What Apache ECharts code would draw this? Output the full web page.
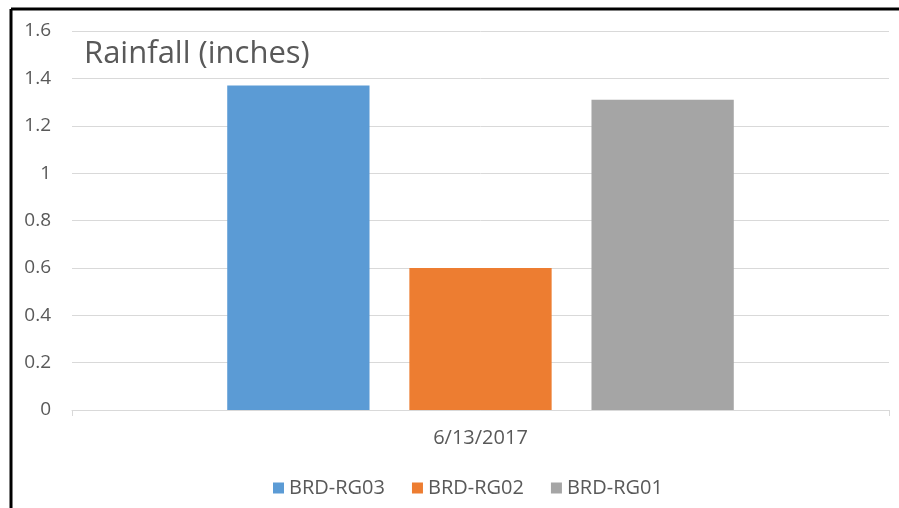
<!DOCTYPE html>
<html><head><meta charset="utf-8">
<script src="https://cdn.jsdelivr.net/npm/echarts@6/dist/echarts.min.js"></script>
<style>html,body{margin:0;padding:0;background:#fff}#c{width:899px;height:508px}</style>
</head><body><div id="c"></div>
<script>
const categories = ['6/13/2017'];
const seriesNames = ['BRD-RG03', 'BRD-RG02', 'BRD-RG01'];
const rg03 = [1.37];
const rg02 = [0.60];
const rg01 = [1.31];
const colors = ['#5b9bd5', '#ed7d31', '#a5a5a5'];
const font = '"Open Sans", "Noto Sans", sans-serif';
const chart = echarts.init(document.getElementById('c'));
const values = [rg03, rg02, rg01];
chart.setOption({
  animation: false,
  title: { text: 'Rainfall (inches)', left: 79, top: 34,
    textStyle: { fontFamily: font, fontSize: 31, fontWeight: 'normal', color: '#595959' } },
  legend: { left: 268, top: 473, itemWidth: 11, itemHeight: 11, itemGap: 27,
    icon: 'rect', textStyle: { fontFamily: font, fontSize: 20, color: '#595959' } },
  grid: { left: 72, right: 10, top: 31, bottom: 98 },
  xAxis: { type: 'category', data: categories,
    axisLine: { lineStyle: { color: '#d9d9d9' } },
    axisTick: { show: true, length: 6, lineStyle: { color: '#d9d9d9' } },
    axisLabel: { fontFamily: font, fontSize: 20, color: '#595959', margin: 18 } },
  yAxis: { type: 'value', min: 0, max: 1.6, interval: 0.2,
    axisLine: { show: false }, axisTick: { show: false },
    axisLabel: { fontFamily: font, fontSize: 19, color: '#595959', margin: 21 },
    splitLine: { lineStyle: { color: '#d9d9d9' } } },
  series: seriesNames.map((n, i) => ({
    name: n, type: 'bar', data: values[i], barGap: '28%', barCategoryGap: '38%',
    itemStyle: { color: colors[i] }
  })),
  graphic: [
    { type: 'line', shape: { x1: 11, y1: 9, x2: 11, y2: 508 }, style: { stroke: '#000', lineWidth: 3 } },
    { type: 'line', shape: { x1: 11, y1: 9, x2: 899, y2: 9 }, style: { stroke: '#000', lineWidth: 3 } }
  ]
});
</script></body></html>
